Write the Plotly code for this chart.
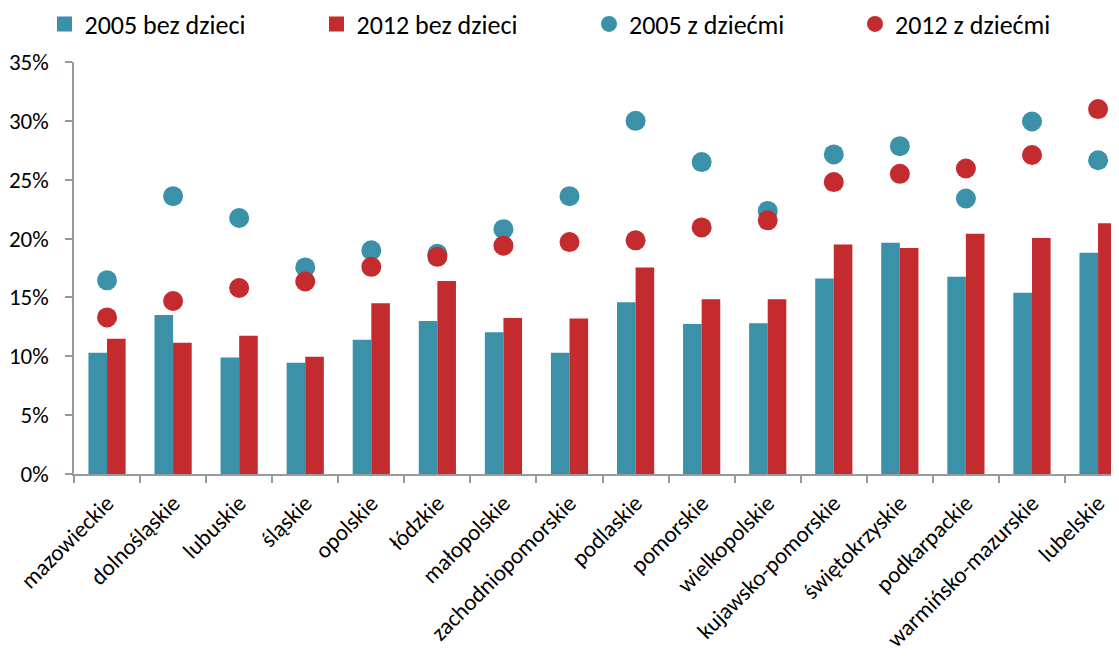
import plotly.graph_objects as go

regions = ["mazowieckie", "dolnośląskie", "lubuskie", "śląskie", "opolskie", "łódzkie",
           "małopolskie", "zachodniopomorskie", "podlaskie", "pomorskie", "wielkopolskie",
           "kujawsko-pomorskie", "świętokrzyskie", "podkarpackie", "warmińsko-mazurskie", "lubelskie"]

bez_2005 = [10.3, 13.5, 9.9, 9.45, 11.4, 13.0, 12.05, 10.3, 14.6, 12.75, 12.8, 16.6, 19.65, 16.75, 15.4, 18.8]
bez_2012 = [11.5, 11.15, 11.75, 9.95, 14.5, 16.4, 13.25, 13.2, 17.55, 14.85, 14.85, 19.5, 19.2, 20.4, 20.05, 21.3]
z_2005 = [16.45, 23.6, 21.75, 17.55, 19.0, 18.7, 20.8, 23.6, 30.0, 26.5, 22.35, 27.15, 27.85, 23.4, 29.95, 26.65]
z_2012 = [13.3, 14.7, 15.8, 16.35, 17.6, 18.45, 19.4, 19.7, 19.85, 20.95, 21.55, 24.8, 25.5, 25.95, 27.1, 31.0]

y_ticks = [0, 5, 10, 15, 20, 25, 30, 35]

TEAL = "#3A91A8"
RED = "#C32B2F"
FONT = "Carlito, Lato, sans-serif"

W, H = 1111, 648  # page body has an 8px margin

fig = go.Figure()
fig.add_trace(go.Bar(x=regions, y=bez_2005, name="2005 bez dzieci", showlegend=False,
                     marker=dict(color=TEAL, line=dict(width=0))))
fig.add_trace(go.Bar(x=regions, y=bez_2012, name="2012 bez dzieci", showlegend=False,
                     marker=dict(color=RED, line=dict(width=0))))
fig.add_trace(go.Scatter(x=regions, y=z_2005, name="2005 z dziećmi", mode="markers", legend="legend3",
                         marker=dict(color=TEAL, size=20, line=dict(width=0))))
fig.add_trace(go.Scatter(x=regions, y=z_2012, name="2012 z dziećmi", mode="markers", legend="legend4",
                         marker=dict(color=RED, size=20, line=dict(width=0))))
# legend keys for the bar series (square swatches)
fig.add_trace(go.Scatter(x=[None], y=[None], name="2005 bez dzieci", mode="markers", legend="legend",
                         marker=dict(color=TEAL, size=15, symbol="square", line=dict(width=0))))
fig.add_trace(go.Scatter(x=[None], y=[None], name="2012 bez dzieci", mode="markers", legend="legend2",
                         marker=dict(color=RED, size=15, symbol="square", line=dict(width=0))))

legend_x = [36.5, 308.5, 581, 847]


def leg(xpx):
    return dict(orientation="h", xref="container", yref="container",
                x=xpx / W, y=1 - 16 / H, xanchor="left", yanchor="middle",
                font=dict(family=FONT, size=26, color="#000000"),
                itemsizing="trace", bgcolor="rgba(0,0,0,0)")


fig.update_layout(
    width=W, height=H,
    margin=dict(l=66, r=0, t=54, b=182, autoexpand=False),
    paper_bgcolor="white", plot_bgcolor="white",
    barmode="group", bargap=0.437, bargroupgap=0,
    font=dict(family=FONT, size=23, color="#000000"),
    showlegend=True,
    legend=leg(legend_x[0]), legend2=leg(legend_x[1]),
    legend3=leg(legend_x[2]), legend4=leg(legend_x[3]),
)
fig.update_xaxes(
    type="category", range=[-0.5, 15.317],
    showline=True, linecolor="#9A9A9A", linewidth=1.5,
    ticks="outside", tickson="boundaries", ticklen=7, tickcolor="#9A9A9A", tickwidth=1.5,
    tickangle=-45, showgrid=False, zeroline=False, ticklabelstandoff=5,
    tickfont=dict(family=FONT, size=23, color="#000000"),
)
fig.update_yaxes(
    range=[0, 35], tickvals=y_ticks, ticktext=[f"{v}%" for v in y_ticks],
    showline=True, linecolor="#9A9A9A", linewidth=1.5,
    ticks="outside", ticklen=7, tickcolor="#9A9A9A", tickwidth=1.5,
    showgrid=False, zeroline=False, ticklabelstandoff=12,
    tickfont=dict(family=FONT, size=23, color="#000000"),
)

fig.write_html("out.html")
